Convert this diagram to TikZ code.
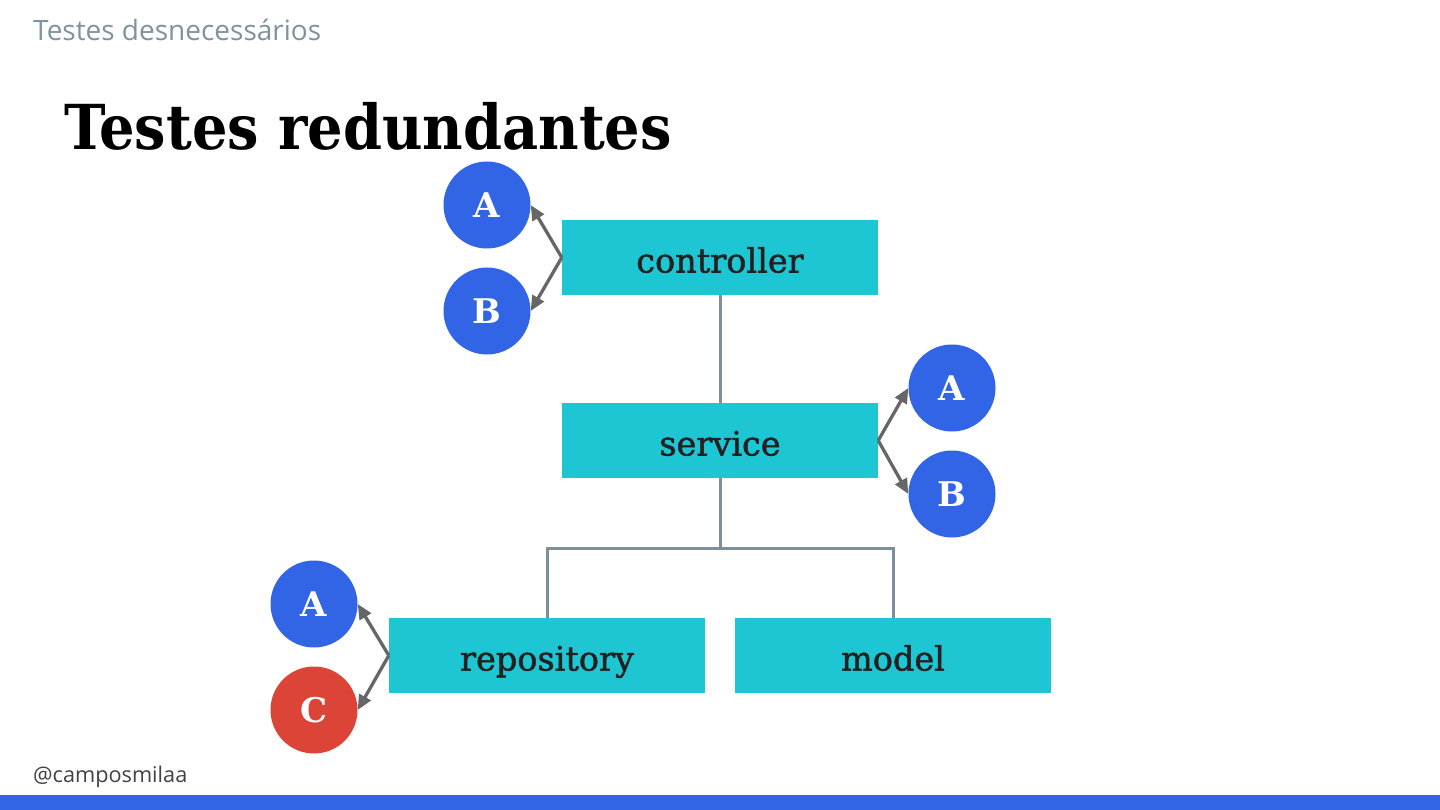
\documentclass[tikz,border=0pt]{standalone}
\usepackage{fontspec}
\usepackage{graphicx}
\setmainfont{DejaVu Serif}
\newfontfamily\opensans{Open Sans}
\newfontfamily\boxfont[FakeBold=1.5]{DejaVu Serif}
\usetikzlibrary{arrows.meta}
\definecolor{cblue}{HTML}{3264E6}
\definecolor{ccyan}{HTML}{1EC6D3}
\definecolor{cred}{HTML}{DB4437}
\definecolor{carrow}{HTML}{666666}
\definecolor{cline}{HTML}{7D8F9B}
\definecolor{chead}{HTML}{7F939E}
\definecolor{ctext}{HTML}{212121}
\tikzset{
  layer/.style={fill=ccyan, minimum width=316pt, minimum height=75pt, inner sep=0pt,
    text=ctext, text height=30pt, text depth=0pt, font=\boxfont\fontsize{33.5}{36}\selectfont},
  ball/.style={circle, minimum size=87pt, inner sep=0pt, text=white,
    font=\bfseries\fontsize{34}{36}\selectfont},
  blueball/.style={ball, fill=cblue},
  redball/.style={ball, fill=cred},
  call/.style={draw=carrow, line width=3.3pt, -{Triangle[length=15pt,width=13pt]}},
  link/.style={draw=cline, line width=3pt}
}
\begin{document}
\begin{tikzpicture}[x=1pt,y=-1pt]
\useasboundingbox (0,0) rectangle (1440,810);
\fill[white] (0,0) rectangle (1440,810);
\fill[cblue] (0,795) rectangle (1440,810);
\node[anchor=west, text=chead, inner sep=0pt, font=\opensans\fontsize{28}{30}\selectfont] (hdr) at (33,30) {Testes desnecessários};
\node[anchor=west, text=ctext!85, inner sep=0pt, font=\opensans\fontsize{21.7}{24}\selectfont] (hnd) at (33,777) {@camposmilaa};
\node[anchor=base west, inner sep=0pt, font=\bfseries\fontsize{62}{66}\selectfont] (title) at (64,150) {\scalebox{0.9}[1]{Testes redundantes}};

\node[layer] (ctrl) at (720,257.5) {controller};
\node[layer] (serv) at (720,440.5) {service};
\node[layer] (repo) at (547,655.5) {repository};
\node[layer] (model) at (893,655.5) {model};

\node[blueball] (cA) at (487,205) {A};
\node[blueball] (cB) at (487,311) {B};
\node[blueball] (sA) at (952,388) {A};
\node[blueball] (sB) at (952,494) {B};
\node[blueball] (rA) at (314,604) {A};
\node[redball] (rC) at (314,710) {C};

\draw[link] (ctrl.south) -- (serv.north);
\coordinate (j) at (720,548);
\draw[link] (serv.south) -- (j);
\draw[link] (repo.north) |- (j) -| (model.north);

\draw[call] (ctrl.west) -- (cA.east);
\draw[call] (ctrl.west) -- (cB.east);
\draw[call] (serv.east) -- (sA.west);
\draw[call] (serv.east) -- (sB.west);
\draw[call] (repo.west) -- (rA.east);
\draw[call] (repo.west) -- (rC.east);
\end{tikzpicture}
\end{document}
